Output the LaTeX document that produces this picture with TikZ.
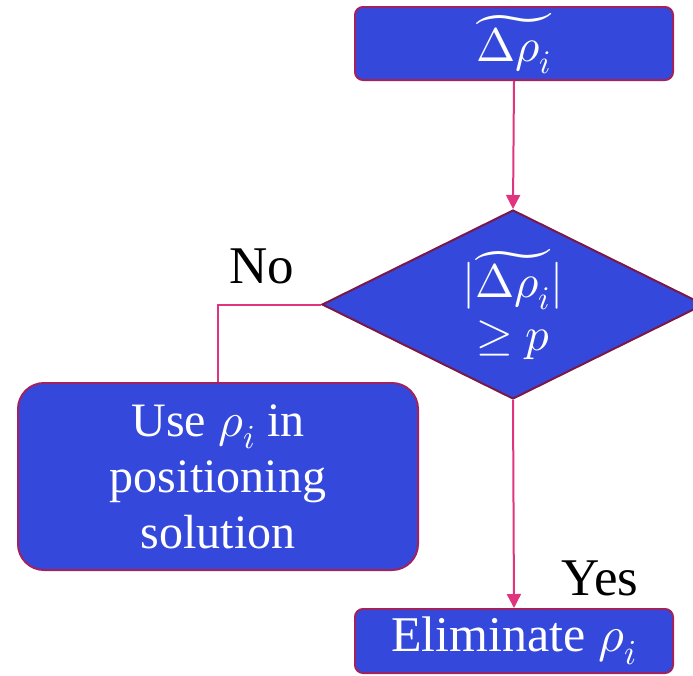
\documentclass[tikz,border=0pt]{standalone}
\usepackage{fontspec}
\usepackage{unicode-math}
\setmainfont{Liberation Serif}
\setmathfont{Latin Modern Math}
\usetikzlibrary{shapes.geometric,arrows.meta}
\definecolor{boxfill}{HTML}{3449DC}
\definecolor{boxline}{HTML}{A0225F}
\definecolor{diaLine}{HTML}{7A1848}
\definecolor{linkcol}{HTML}{E0347F}
\tikzset{
  procbox/.style={draw=boxline, line width=2pt, fill=boxfill, text=white,
    rounded corners=8pt, inner sep=0pt, align=center},
  decision/.style={diamond, draw=diaLine, line width=2pt, fill=boxfill, text=white,
    inner sep=0pt, shape aspect=2, align=center},
  link/.style={draw=linkcol, line width=2pt},
  arrowlink/.style={link, -{Triangle[length=14pt,width=14pt]}},
  answer/.style={font=\fontsize{53}{58}\selectfont, text=black}
}
\begin{document}
\begin{tikzpicture}[x=1pt,y=-1pt]
\useasboundingbox (0,0) rectangle (693,675);
\clip (0,0) rectangle (693,675);

\node[procbox, minimum width=318pt, minimum height=73pt,
  font=\fontsize{47}{50}\selectfont] (delta) at (514,43.5)
  {$\widetilde{\Delta\rho_i}$};

\node[decision, minimum width=382pt, minimum height=189pt,
  font=\fontsize{47}{55}\selectfont] (test) at (513,304.5)
  {$|\widetilde{\Delta\rho_i}|$\\[-2pt]$\geq p$};

\node[procbox, rounded corners=26pt, minimum width=400pt, minimum height=187pt,
  font=\fontsize{48}{56}\selectfont] (use) at (218,476.5)
  {Use $\rho_i$ in\\positioning\\solution};

\node[procbox, minimum width=318pt, minimum height=64pt,
  font=\fontsize{50}{54}\selectfont] (elim) at (514,641)
  {\raisebox{-4pt}{Eliminate $\rho_i$}};

\draw[arrowlink] (delta.south) -- (test.north);
\draw[arrowlink] (test.south) -- (elim.north);
\draw[link] (test.west) -| (use.north);

\node[answer] (no) at (262,266) {No};
\node[answer] (yes) at (600,578) {Yes};
\end{tikzpicture}
\end{document}
